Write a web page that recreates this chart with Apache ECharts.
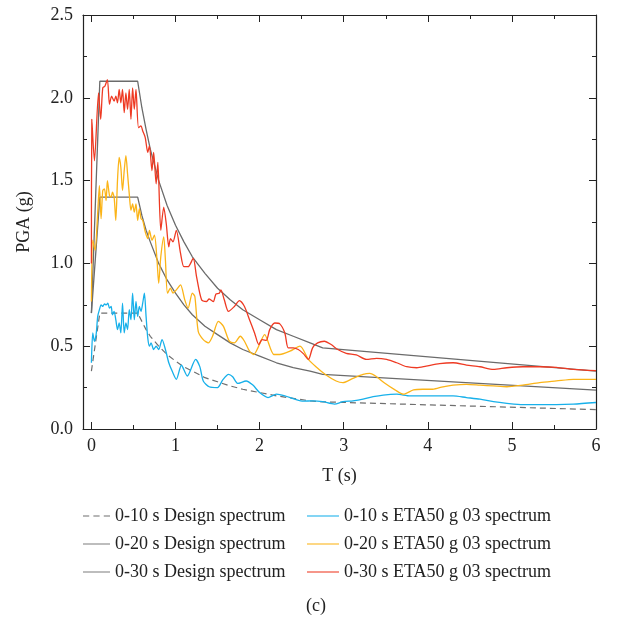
<!DOCTYPE html>
<html><head><meta charset="utf-8">
<script src="https://cdn.jsdelivr.net/npm/echarts@6/dist/echarts.min.js"></script>
<style>html,body{margin:0;padding:0;background:#fff}#c{width:632px;height:622px}</style>
</head><body><div id="c"></div>
<script>
// ---- data ----
const xTicks = [0,1,2,3,4,5,6];
const xMinorTicks = [0.5,1.5,2.5,3.5,4.5,5.5];
const legendNames = ['0-10 s Design spectrum','0-20 s Design spectrum','0-30 s Design spectrum',
  '0-10 s ETA50 g 03 spectrum','0-20 s ETA50 g 03 spectrum','0-30 s ETA50 g 03 spectrum'];

const designT   = [0,0.1,0.55,0.6,0.65,0.7,0.8,0.9,1.0,1.1,1.2,1.35,1.5,1.65,1.8,2.0,2.2,2.4,2.6,2.75,6];
const design10  = [0.35,0.7,0.7,0.65,0.60,0.56,0.50,0.45,0.41,0.375,0.35,0.31,0.285,0.26,0.24,0.22,0.20,0.185,0.17,0.164,0.117];
const design20  = [0.7,1.4,1.4,1.29,1.20,1.13,1.0,0.90,0.82,0.75,0.69,0.62,0.57,0.52,0.48,0.44,0.40,0.37,0.35,0.33,0.235];
const design30  = [0.7,2.1,2.1,1.94,1.81,1.69,1.50,1.35,1.23,1.13,1.04,0.94,0.85,0.78,0.72,0.66,0.60,0.56,0.52,0.49,0.35];

const eta10T = [0,0.016,0.036,0.056,0.075,0.095,0.115,0.135,0.155,0.175,0.195,0.215,0.235,0.25,0.27,0.29,0.31,0.33,0.35,0.37,0.39,0.41,0.43,0.45,0.47,0.49,0.51,0.53,0.55,0.57,0.59,0.61,0.63,0.65,0.67,0.69,0.71,0.74,0.77,0.80,0.84,0.88,0.92,0.96,1.01,1.07,1.14,1.24,1.29,1.33,1.40,1.50,1.56,1.63,1.68,1.74,1.84,1.92,2.0,2.10,2.20,2.30,2.42,2.52,2.63,2.75,2.89,2.99,3.11,3.23,3.35,3.47,3.63,3.79,3.94,4.10,4.30,4.46,4.62,4.78,4.94,5.13,5.33,5.53,5.73,6.0];
const eta10V = [0.40,0.58,0.53,0.57,0.68,0.72,0.75,0.74,0.755,0.75,0.76,0.73,0.74,0.69,0.71,0.66,0.60,0.64,0.58,0.76,0.58,0.64,0.60,0.72,0.66,0.82,0.66,0.77,0.68,0.74,0.71,0.76,0.82,0.68,0.55,0.50,0.52,0.48,0.50,0.48,0.54,0.48,0.40,0.35,0.30,0.385,0.32,0.42,0.375,0.29,0.255,0.25,0.295,0.33,0.315,0.275,0.29,0.265,0.22,0.19,0.21,0.20,0.18,0.168,0.17,0.165,0.15,0.165,0.17,0.18,0.195,0.205,0.21,0.20,0.20,0.20,0.20,0.19,0.18,0.165,0.155,0.147,0.147,0.147,0.15,0.16];

const eta20T = [0,0.016,0.044,0.07,0.095,0.115,0.135,0.155,0.175,0.19,0.215,0.235,0.25,0.27,0.29,0.31,0.33,0.35,0.37,0.39,0.41,0.43,0.45,0.47,0.49,0.51,0.53,0.55,0.57,0.59,0.61,0.64,0.67,0.69,0.72,0.75,0.78,0.80,0.825,0.86,0.88,0.905,0.94,0.97,1.01,1.06,1.11,1.15,1.20,1.23,1.27,1.33,1.39,1.44,1.51,1.57,1.64,1.70,1.77,1.82,1.88,1.93,1.98,2.06,2.17,2.24,2.36,2.48,2.58,2.67,2.79,2.91,2.99,3.11,3.23,3.31,3.39,3.49,3.61,3.71,3.83,3.94,4.06,4.18,4.30,4.46,4.62,4.78,4.94,5.13,5.33,5.53,5.73,6.0];
const eta20V = [0.77,1.14,1.08,1.26,1.47,1.27,1.44,1.45,1.38,1.50,1.41,1.40,1.43,1.40,1.26,1.50,1.64,1.58,1.44,1.56,1.65,1.54,1.42,1.32,1.36,1.31,1.36,1.26,1.33,1.27,1.26,1.19,1.15,1.20,1.14,1.17,1.02,0.88,1.04,1.16,1.02,0.82,0.85,0.82,0.84,0.87,0.78,0.73,0.82,0.80,0.59,0.54,0.52,0.56,0.65,0.62,0.53,0.52,0.56,0.53,0.47,0.45,0.49,0.57,0.45,0.45,0.47,0.50,0.42,0.376,0.326,0.29,0.28,0.306,0.33,0.336,0.316,0.276,0.236,0.21,0.236,0.24,0.24,0.255,0.265,0.27,0.265,0.26,0.255,0.265,0.28,0.29,0.30,0.30];

const eta30T = [0,0.005,0.036,0.085,0.11,0.135,0.16,0.19,0.215,0.24,0.27,0.29,0.31,0.33,0.35,0.37,0.39,0.41,0.43,0.45,0.47,0.49,0.51,0.53,0.56,0.59,0.61,0.64,0.67,0.69,0.72,0.74,0.77,0.79,0.825,0.86,0.89,0.92,0.94,0.97,1.01,1.06,1.10,1.15,1.21,1.25,1.31,1.37,1.40,1.45,1.48,1.52,1.54,1.58,1.63,1.70,1.76,1.82,1.88,1.94,1.99,2.03,2.08,2.12,2.18,2.24,2.30,2.34,2.40,2.46,2.52,2.58,2.63,2.69,2.77,2.85,2.93,3.03,3.15,3.27,3.39,3.51,3.63,3.75,3.87,3.98,4.14,4.30,4.46,4.62,4.78,4.94,5.13,5.33,5.53,5.73,6.0];
const eta30V = [1.0,1.87,1.62,2.03,1.87,2.06,2.07,2.11,1.96,2.01,1.98,2.01,1.97,2.05,1.97,2.05,1.91,2.03,1.93,2.05,1.87,2.06,1.93,2.05,1.82,1.83,1.80,1.76,1.67,1.71,1.56,1.67,1.48,1.61,1.20,1.34,1.24,1.10,1.15,1.13,1.20,1.06,0.98,0.98,1.03,0.92,0.78,0.77,0.785,0.77,0.815,0.82,0.84,0.78,0.71,0.74,0.775,0.74,0.66,0.58,0.51,0.54,0.535,0.60,0.64,0.635,0.58,0.49,0.49,0.48,0.455,0.42,0.49,0.52,0.53,0.51,0.48,0.457,0.447,0.42,0.427,0.42,0.40,0.376,0.37,0.38,0.395,0.40,0.386,0.376,0.36,0.37,0.376,0.376,0.372,0.36,0.352];

// ---- chart ----
const FONT = '"Liberation Serif", "DejaVu Serif", serif';
const FS = 18;
const pairs = (t, v) => t.map((x, i) => [x, v[i]]);
const GRAY = '#6b6b6b';
const SOLID_ICON = 'path://M0,0 L30,0 L30,1 L0,1 Z';
const DASH_ICON = 'path://M0,0 L6,0 L6,1 L0,1 Z M10,0 L16,0 L16,1 L10,1 Z M20,0 L26,0 L26,1 L20,1 Z';
const chart = echarts.init(document.getElementById('c'), null, {renderer: 'canvas'});

const xBase = {type: 'value', min: -0.1, max: 6, gridIndex: 0, splitLine: {show: false}};
const lineSeries = (name, data, color, extra) => Object.assign({
  name, type: 'line', data, xAxisIndex: 0, yAxisIndex: 0,
  showSymbol: false, symbol: 'none', animation: false,
  lineStyle: {color, width: 1.3}, itemStyle: {color}
}, extra || {});
const legendText = {fontFamily: FONT, fontSize: FS, color: '#222', lineHeight: 20};

chart.setOption({
  animation: false,
  backgroundColor: '#fff',
  grid: {left: 83, top: 15, right: 36, bottom: 193, containLabel: false},
  title: {text: '(c)', left: 'center', top: 592, textStyle: {fontFamily: FONT, fontSize: FS, fontWeight: 'normal', color: '#222'}},
  xAxis: [
    Object.assign({}, xBase, {position: 'bottom', name: 'T (s)', nameLocation: 'middle', nameGap: 38,
      nameTextStyle: {fontFamily: FONT, fontSize: FS, color: '#222'},
      axisLine: {show: true, onZero: false, lineStyle: {color: '#222', width: 1.2}},
      axisTick: {show: true, inside: true, length: 7, customValues: xTicks, lineStyle: {color: '#222'}},
      axisLabel: {show: true, customValues: xTicks, margin: 8, fontFamily: FONT, fontSize: FS, color: '#222'}}),
    Object.assign({}, xBase, {position: 'bottom',
      axisLine: {show: false, onZero: false},
      axisTick: {show: true, inside: true, length: 4, customValues: xMinorTicks, lineStyle: {color: '#222'}},
      axisLabel: {show: false}}),
    Object.assign({}, xBase, {position: 'top',
      axisLine: {show: true, onZero: false, lineStyle: {color: '#222', width: 1.2}},
      axisTick: {show: true, inside: true, length: 7, customValues: xTicks, lineStyle: {color: '#222'}},
      axisLabel: {show: false}}),
    Object.assign({}, xBase, {position: 'top',
      axisLine: {show: false, onZero: false},
      axisTick: {show: true, inside: true, length: 4, customValues: xMinorTicks, lineStyle: {color: '#222'}},
      axisLabel: {show: false}})
  ],
  yAxis: [
    {type: 'value', min: 0, max: 2.5, interval: 0.5, position: 'left',
      name: 'PGA (g)', nameLocation: 'middle', nameGap: 50, nameRotate: 90,
      nameTextStyle: {fontFamily: FONT, fontSize: FS, color: '#222'},
      axisLine: {show: true, onZero: false, lineStyle: {color: '#222', width: 1.2}},
      axisTick: {show: true, inside: true, length: 7, lineStyle: {color: '#222'}},
      minorTick: {show: true, splitNumber: 2, length: 4, lineStyle: {color: '#222'}},
      axisLabel: {margin: 10, fontFamily: FONT, fontSize: FS, color: '#222', formatter: v => v.toFixed(1)},
      splitLine: {show: false}},
    {type: 'value', min: 0, max: 2.5, interval: 0.5, position: 'right',
      axisLine: {show: true, onZero: false, lineStyle: {color: '#222', width: 1.2}},
      axisTick: {show: true, inside: true, length: 7, lineStyle: {color: '#222'}},
      minorTick: {show: true, splitNumber: 2, length: 4, lineStyle: {color: '#222'}},
      axisLabel: {show: false}, splitLine: {show: false}}
  ],
  legend: [
    {data: [
        {name: legendNames[0], icon: DASH_ICON},
        {name: legendNames[1], icon: SOLID_ICON},
        {name: legendNames[2], icon: SOLID_ICON}],
      orient: 'vertical', left: 78, top: 501, itemWidth: 27, itemHeight: 2, itemGap: 8, textStyle: legendText},
    {data: [
        {name: legendNames[3], icon: SOLID_ICON},
        {name: legendNames[4], icon: SOLID_ICON},
        {name: legendNames[5], icon: SOLID_ICON}],
      orient: 'vertical', left: 302, top: 501, itemWidth: 32, itemHeight: 2, itemGap: 8, textStyle: legendText}
  ],
  series: [
    lineSeries(legendNames[0], pairs(designT, design10), '#6f6f6f', {lineStyle: {color: '#6f6f6f', width: 1.2, type: [6,4]}}),
    lineSeries(legendNames[1], pairs(designT, design20), GRAY),
    lineSeries(legendNames[2], pairs(designT, design30), GRAY),
    lineSeries(legendNames[3], pairs(eta10T, eta10V), '#17b0ea', {smooth: 0.25}),
    lineSeries(legendNames[4], pairs(eta20T, eta20V), '#fbb418', {smooth: 0.25}),
    lineSeries(legendNames[5], pairs(eta30T, eta30V), '#ee3a23', {smooth: 0.25})
  ]
});
</script></body></html>
